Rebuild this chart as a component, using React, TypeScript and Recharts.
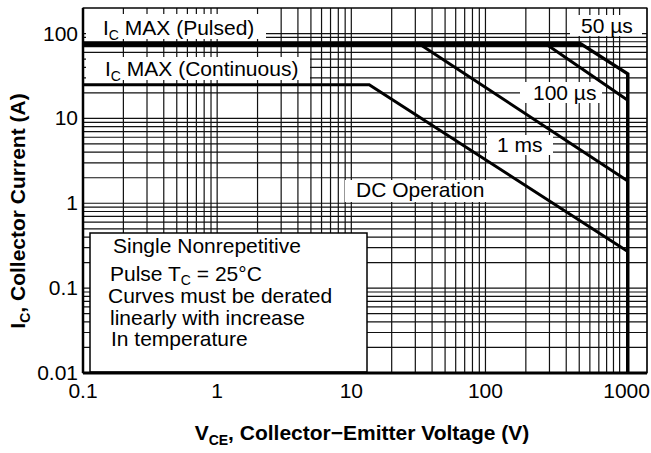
import React from 'react';
import { LineChart, Line, XAxis, YAxis, CartesianGrid, ReferenceArea, Customized } from 'recharts';

// axis decades and their labels
const xDecades = [0.1, 1, 10, 100, 1000];
const xTickLabels = ['0.1', '1', '10', '100', '1000'];
const yDecades = [0.01, 0.1, 1, 10, 100];
const yTickLabels = ['0.01', '0.1', '1', '10', '100'];
const gridSteps = [1, 2, 3, 4, 5, 6, 7, 8, 9];
const xDomain = [0.1, 1600];
const yDomain = [0.01, 200];

// safe operating area curves (VCE in V, IC in A)
const vcePulsedMax = [0.1, 518];
const icPulsedMax = [75, 75];
const vce50us = [0.1, 518, 1150, 1150];
const ic50us = [75, 75, 33.5, 0.01];
const vce100us = [0.1, 284, 1150];
const ic100us = [75, 75, 16.4];
const vce1ms = [0.1, 32.4, 1150];
const ic1ms = [75, 75, 1.83];
const vceDc = [0.1, 13.6, 1150];
const icDc = [25, 25, 0.27];

const toPoints = (vce: number[], ic: number[]) => vce.map((v, i) => ({ vce: v, ic: ic[i] }));

const xTicks = xDecades
  .flatMap((d) => gridSteps.map((s) => +(d * s).toPrecision(3)))
  .filter((v) => v <= xDomain[1]);
const yTicks = yDecades
  .flatMap((d) => gridSteps.map((s) => +(d * s).toPrecision(3)))
  .filter((v) => v <= yDomain[1]);

const FONT = '"Liberation Sans", Arial, Helvetica, sans-serif';

const findDecade = (list: number[], v: number) => list.findIndex((d) => Math.abs(d - v) < d * 1e-6);

const renderXTick = (props: any) => {
  const { x, y, payload } = props;
  const i = findDecade(xDecades, payload.value);
  if (i < 0) return <g />;
  return (
    <text x={x + (i === 4 ? 7 : 0)} y={y + 25} textAnchor="middle" fontSize={21} fontFamily={FONT} fill="#000">
      {xTickLabels[i]}
    </text>
  );
};

const renderYTick = (props: any) => {
  const { x, y, payload } = props;
  const i = findDecade(yDecades, payload.value);
  if (i < 0) return <g />;
  return (
    <text x={x - 5} y={y + 7} textAnchor="end" fontSize={21} fontFamily={FONT} fill="#000">
      {yTickLabels[i]}
    </text>
  );
};

const Annotations = () => (
  <g fontFamily={FONT} fontSize={21} fill="#000">
    <rect x={86} y={14} width={180} height={25} fill="#fff" />
    <text x={103} y={34.5}>
      I<tspan fontSize={14} dy={5}>C</tspan>
      <tspan dy={-5}> MAX (Pulsed)</tspan>
    </text>
    <rect x={86} y={57} width={224} height={23} fill="#fff" />
    <text x={105} y={75.5}>
      I<tspan fontSize={14} dy={5}>C</tspan>
      <tspan dy={-5}> MAX (Continuous)</tspan>
    </text>
    <rect x={570} y={15} width={72} height={21} fill="#fff" />
    <text x={581} y={32.5}>50 µs</text>
    <rect x={520} y={82} width={82} height={21} fill="#fff" />
    <text x={533} y={100}>100 µs</text>
    <rect x={487} y={135} width={66} height={20} fill="#fff" />
    <text x={497} y={152}>1 ms</text>
    <rect x={345} y={180} width={145} height={22} fill="#fff" />
    <text x={356} y={196.5}>DC Operation</text>

    <rect x={90} y={233} width={277} height={139} fill="#fff" stroke="#000" strokeWidth={1.5} />
    <text x={113} y={253}>Single Nonrepetitive</text>
    <text x={110} y={281}>
      Pulse T<tspan fontSize={14} dy={4}>C</tspan>
      <tspan dy={-4}> = 25°C</tspan>
    </text>
    <text x={108} y={303}>Curves must be derated</text>
    <text x={110} y={325}>linearly with increase</text>
    <text x={111} y={346}>In temperature</text>

    <text x={362} y={440} textAnchor="middle" fontWeight="bold">
      V<tspan fontSize={14} dy={5}>CE</tspan>
      <tspan dy={-5}>, Collector−Emitter Voltage (V)</tspan>
    </text>
    <text x={0} y={0} transform="translate(25, 211) rotate(-90)" textAnchor="middle" fontWeight="bold">
      I<tspan fontSize={14} dy={5}>C</tspan>
      <tspan dy={-5}>, Collector Current (A)</tspan>
    </text>
  </g>
);

const curves = [
  { key: '50us', vce: vce50us, ic: ic50us, width: 3.5 },
  { key: '100us', vce: vce100us, ic: ic100us, width: 3 },
  { key: '1ms', vce: vce1ms, ic: ic1ms, width: 3 },
  { key: 'dc', vce: vceDc, ic: icDc, width: 3 },
  { key: 'pulsed', vce: vcePulsedMax, ic: icPulsedMax, width: 5 },
];

export default function App() {
  return (
    <div style={{ position: 'absolute', left: 0, top: 0 }}>
      <LineChart width={651} height={453} margin={{ top: 8, right: 4, bottom: 50, left: 3 }}>
        <CartesianGrid stroke="#111" strokeWidth={1.2} />
        <XAxis
          dataKey="vce"
          type="number"
          scale="log"
          domain={xDomain}
          ticks={xTicks}
          interval={0}
          allowDataOverflow
          height={30}
          tickLine={false}
          tickSize={0}
          tickMargin={0}
          tick={renderXTick}
          axisLine={{ stroke: '#000', strokeWidth: 3 }}
        />
        <YAxis
          dataKey="ic"
          type="number"
          scale="log"
          domain={yDomain}
          ticks={yTicks}
          interval={0}
          allowDataOverflow
          width={80}
          tickLine={false}
          tickSize={0}
          tickMargin={0}
          tick={renderYTick}
          axisLine={{ stroke: '#000', strokeWidth: 2.5 }}
        />
        <ReferenceArea x1={xDomain[0]} x2={xDomain[1]} y1={yDomain[0]} y2={yDomain[1]} fill="none" stroke="#000" strokeWidth={1.2} />
        <Customized component={Annotations} />
        {curves.map((c) => (
          <Line
            key={c.key}
            data={toPoints(c.vce, c.ic)}
            dataKey="ic"
            type="linear"
            stroke="#000"
            strokeWidth={c.width}
            dot={false}
            activeDot={false}
            isAnimationActive={false}
          />
        ))}
      </LineChart>
    </div>
  );
}
